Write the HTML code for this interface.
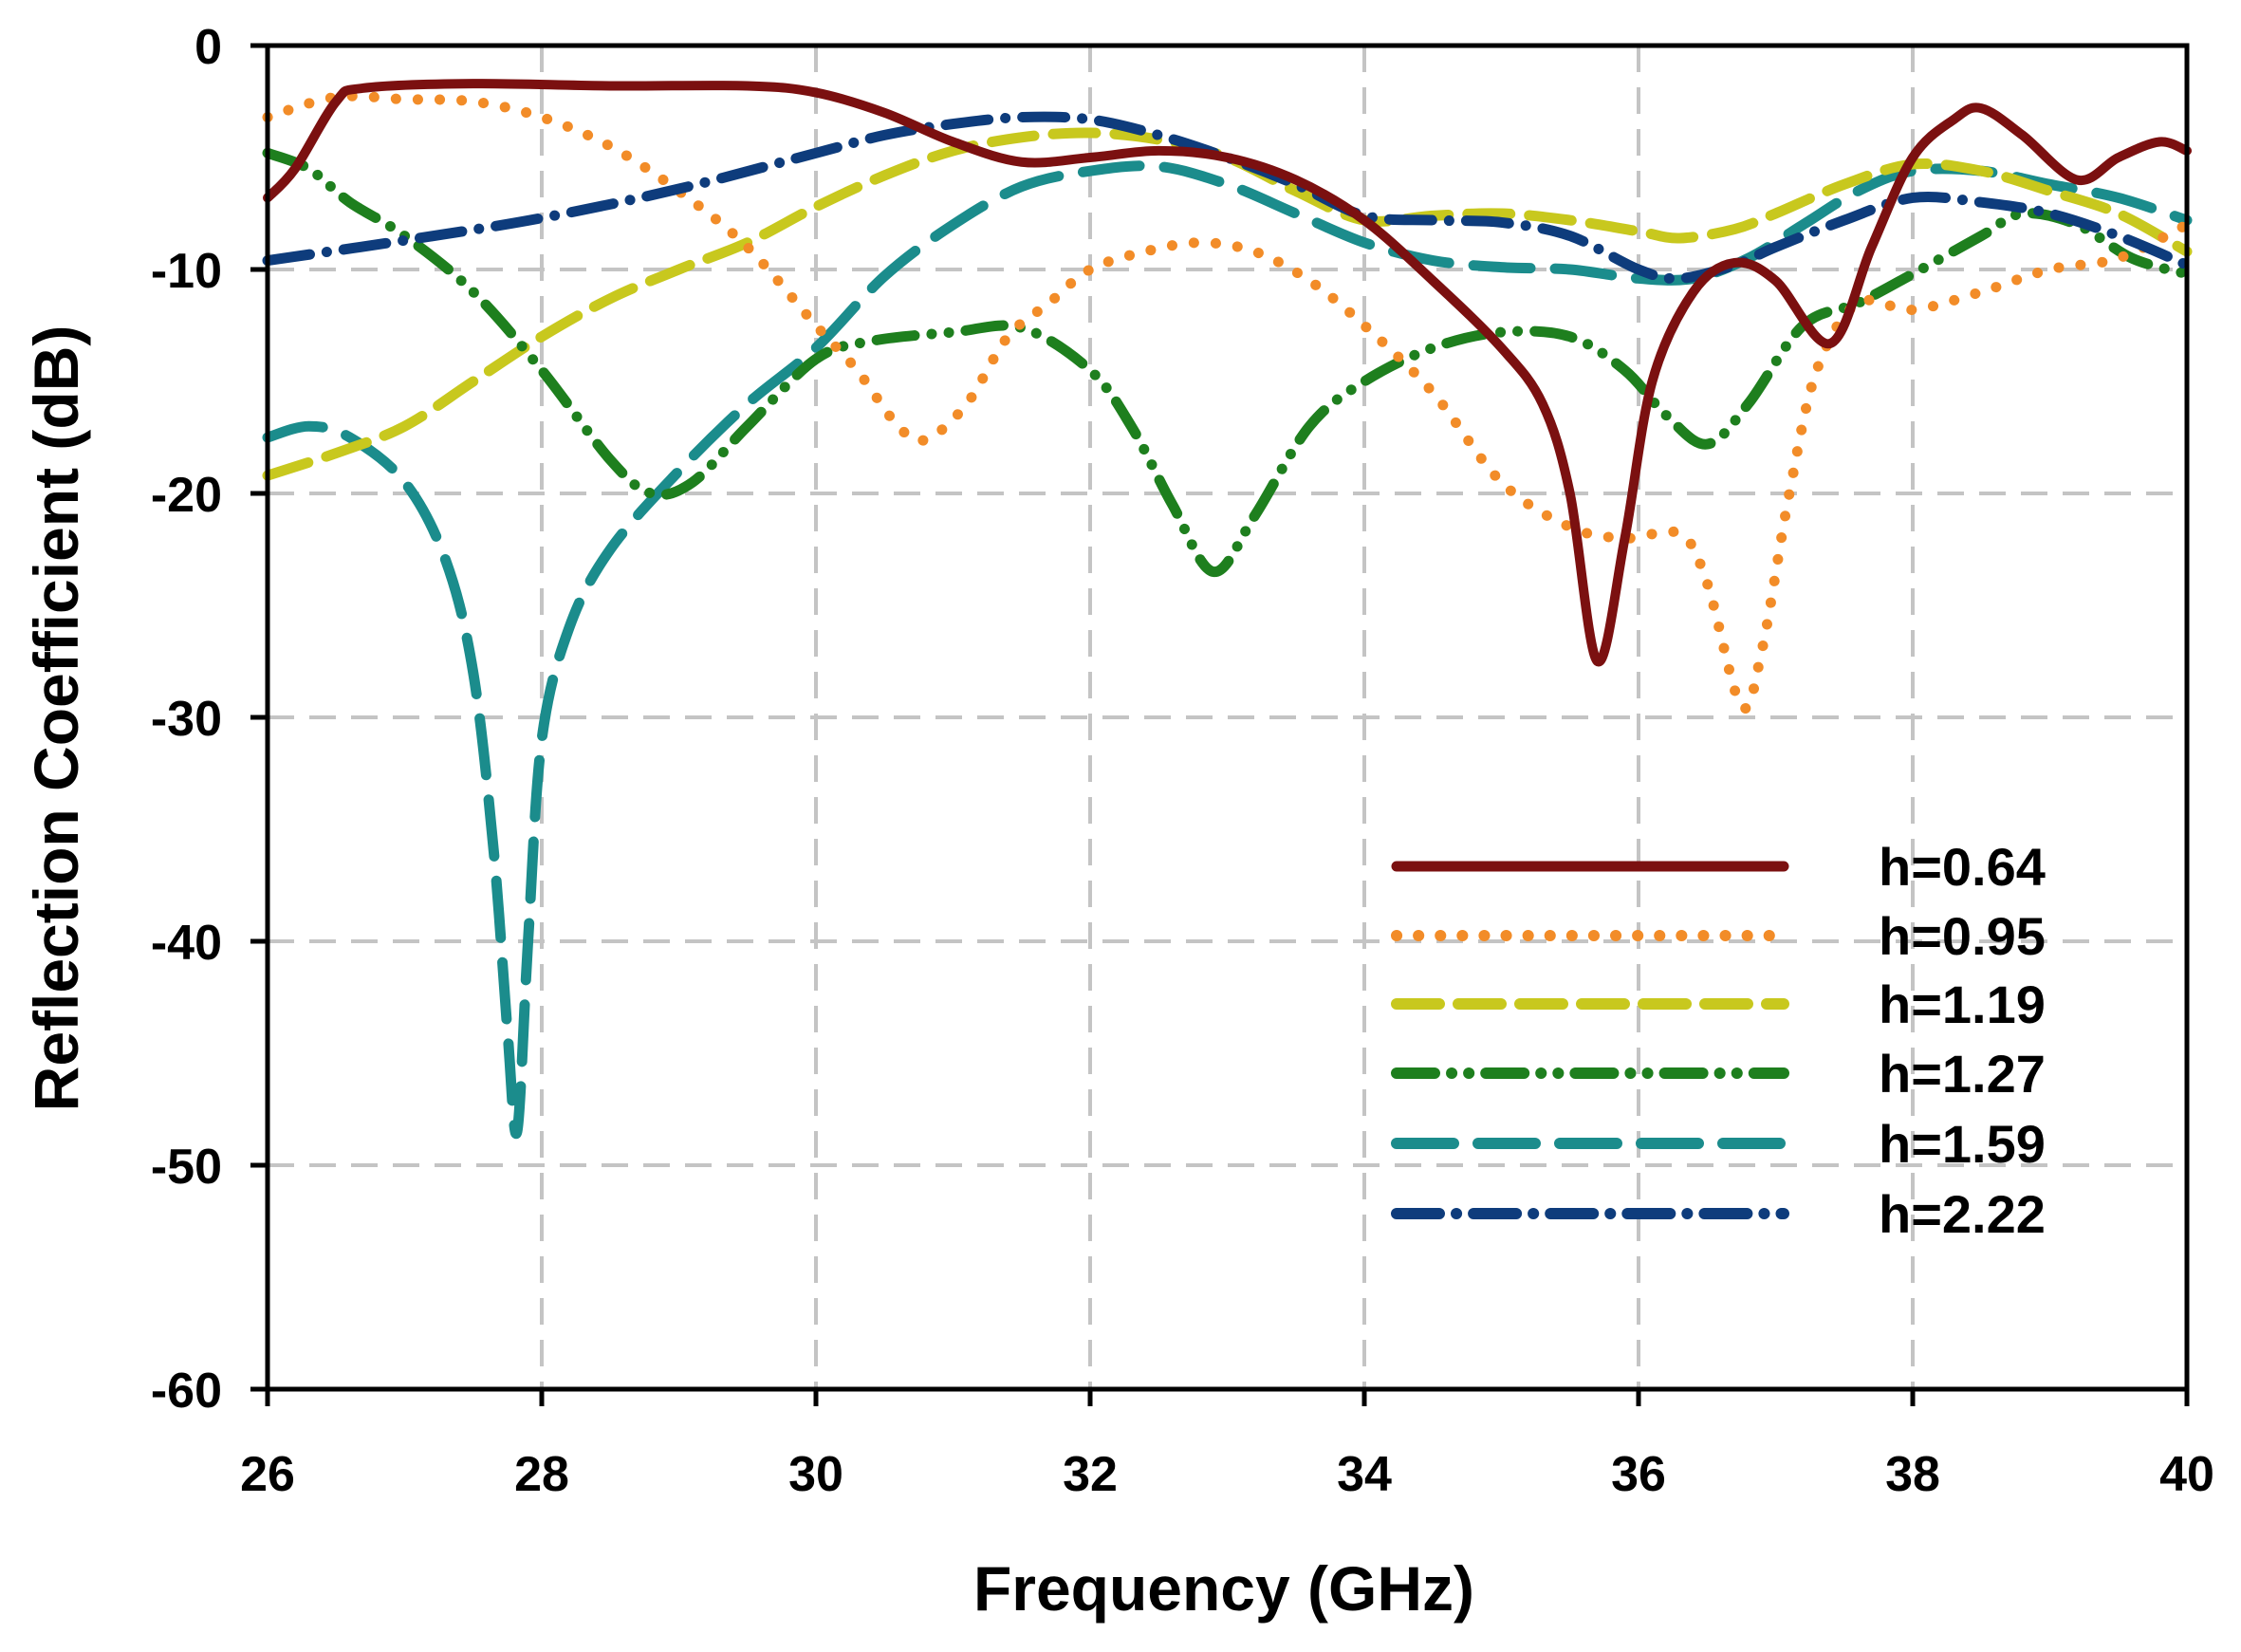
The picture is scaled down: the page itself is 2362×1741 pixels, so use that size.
<!DOCTYPE html>
<html><head><meta charset="utf-8"><style>
html,body{margin:0;padding:0;background:#fff;}
svg{display:block;font-family:"Liberation Sans",Arial,sans-serif;font-weight:bold;}
</style></head><body>
<svg id="s" width="2362" height="1741" viewBox="0 0 2362 1741" xmlns="http://www.w3.org/2000/svg">
<rect width="2362" height="1741" fill="#fff"/>
<g id="grid" stroke="#c4c4c4" stroke-width="4" stroke-dasharray="28,16"></g>
<g id="curves" fill="none" stroke-linecap="round" stroke-linejoin="round"></g>
<g id="axes" stroke="#000" stroke-width="5" fill="none"></g>
<g id="labels" fill="#000"></g>
<text x="1290" y="1697" font-size="66" text-anchor="middle">Frequency (GHz)</text>
<text transform="translate(82,757) rotate(-90)" font-size="66" text-anchor="middle">Reflection Coefficient (dB)</text>
<g id="legend" fill="none" stroke-linecap="round"></g>
</svg>
<script>
var L=282,R=2305,T=48,B=1464;
function X(f){return L+(f-26)*(R-L)/14;}
function Y(d){return T+(-d)*(B-T)/60;}
var NS="http://www.w3.org/2000/svg";
function el(p,n,a,t){var e=document.createElementNS(NS,n);for(var k in a)e.setAttribute(k,a[k]);if(t!==undefined)e.textContent=t;document.getElementById(p).appendChild(e);return e;}
for(var f=28;f<40;f+=2)el("grid","line",{x1:X(f),y1:T,x2:X(f),y2:B});
for(var d=-10;d>-60;d-=10)el("grid","line",{x1:L,y1:Y(d),x2:R,y2:Y(d)});
el("axes","rect",{x:L,y:T,width:R-L,height:B-T});
for(var f=26;f<=40;f+=2){el("axes","line",{x1:X(f),y1:B,x2:X(f),y2:B+18});el("labels","text",{x:X(f),y:1571,"font-size":52,"text-anchor":"middle"},f);}
for(var d=0;d>=-60;d-=10){el("axes","line",{x1:L-18,y1:Y(d),x2:L,y2:Y(d)});el("labels","text",{x:234,y:Y(d)+19,"font-size":52,"text-anchor":"end"},d);}
function path(pts){var P=[];for(var i=0;i<pts.length;i+=2)P.push([X(pts[i]),Y(pts[i+1])]);
var s="M"+P[0][0]+","+P[0][1];for(var i=0;i<P.length-1;i++){var p0=P[Math.max(i-1,0)],p1=P[i],p2=P[i+1],p3=P[Math.min(i+2,P.length-1)];
s+=" C"+(p1[0]+(p2[0]-p0[0])/6)+","+(p1[1]+(p2[1]-p0[1])/6)+" "+(p2[0]-(p3[0]-p1[0])/6)+","+(p2[1]-(p3[1]-p1[1])/6)+" "+p2[0]+","+p2[1];}return s;}
var S=[
{c:"#1b8c8c",w:11,da:"60,26",d:[26,-17.5,26.3,-17,26.6,-17.5,27,-19.5,27.3,-23,27.5,-28,27.65,-36,27.75,-44,27.82,-48.5,27.9,-40,28,-31,28.2,-26,28.5,-22.5,29,-19,29.5,-16,30,-13.5,30.5,-10.3,31,-8,31.5,-6.3,32,-5.6,32.5,-5.4,33,-6.2,33.5,-7.5,34,-8.8,34.5,-9.6,35,-9.9,35.5,-10,36,-10.4,36.4,-10.4,36.8,-9.5,37.2,-8,37.6,-6.5,38,-5.6,38.5,-5.6,39,-6.2,39.5,-6.8,40,-7.8]},
{c:"#c8c81e",w:11,da:"45,20",d:[26,-19.2,26.5,-18.2,27,-17,27.5,-15,28,-13,28.5,-11.3,29,-10,29.5,-8.8,30,-7.2,30.5,-5.8,31,-4.7,31.5,-4.1,32,-3.9,32.5,-4.2,33,-5,33.5,-6.5,34,-7.8,34.5,-7.6,35,-7.5,35.5,-7.8,36,-8.3,36.3,-8.6,36.7,-8.2,37,-7.5,37.5,-6.2,38,-5.3,38.5,-5.6,39,-6.5,39.5,-7.5,40,-9.2]},
{c:"#1e7f1e",w:11,da:"40,18,0.1,18,0.1,18",d:[26,-4.8,26.3,-5.5,26.6,-7,27,-8.5,27.5,-11,28,-14.5,28.5,-18.5,28.8,-20,29.1,-19.5,29.5,-17,30,-14,30.4,-13.2,31,-12.8,31.5,-12.6,32,-14.5,32.3,-17,32.6,-20.5,32.9,-23.5,33.2,-21,33.6,-17,34,-15,34.5,-13.5,35,-12.8,35.5,-13,35.9,-14.5,36.2,-16.5,36.5,-17.8,36.8,-16,37.2,-12.5,37.6,-11.5,38,-10.2,38.5,-8.5,38.8,-7.5,39.2,-8,39.6,-9.5,40,-10.2]},
{c:"#f28c28",w:11,da:"0.1,23",d:[26,-3.2,26.5,-2.3,27,-2.4,27.5,-2.5,28,-3.2,28.5,-4.5,29,-6.5,29.5,-9,30,-12.5,30.3,-14.5,30.6,-17,30.8,-17.6,31.1,-16,31.4,-13,31.7,-11.5,32,-10,32.4,-9.2,32.8,-8.8,33.2,-9.2,33.6,-10.5,34,-12.5,34.5,-15.5,35,-19.5,35.5,-21.5,35.9,-22,36.3,-21.8,36.5,-24,36.75,-29.5,36.9,-27,37.1,-20,37.3,-14.5,37.6,-11.5,38,-11.8,38.5,-11,39,-10,39.5,-9.5,40,-8]},
{c:"#0e3c7c",w:11,da:"45,18,0.1,18",d:[26,-9.6,27,-8.7,28,-7.7,29,-6.4,30,-4.8,30.5,-4,31,-3.5,31.5,-3.2,32,-3.3,32.5,-4,33,-5,33.5,-6.2,34,-7.6,34.5,-7.8,35,-7.9,35.5,-8.5,36,-10,36.3,-10.4,36.7,-9.8,37,-9,37.5,-7.8,38,-6.8,38.5,-7,39,-7.5,39.5,-8.5,40,-9.8]},
{c:"#7b1010",w:10,da:"none",d:[26,-6.8,26.2,-5.5,26.5,-2.5,26.7,-1.9,27.5,-1.7,28.5,-1.8,29.5,-1.8,30,-2.1,30.5,-3,31,-4.3,31.5,-5.2,32,-5,32.5,-4.7,33,-5,33.5,-6,34,-7.8,34.5,-10.5,35,-13.5,35.3,-16,35.5,-20,35.7,-27.5,35.9,-22,36.1,-15,36.4,-11,36.7,-9.7,37,-10.5,37.4,-13.3,37.7,-9,38,-5,38.3,-3.3,38.5,-2.8,38.8,-4,39.2,-6,39.5,-5,39.8,-4.3,40,-4.7]}
];
S.forEach(function(s){el("curves","path",{d:path(s.d),stroke:s.c,"stroke-width":s.w,"stroke-dasharray":s.da});});
var Lg=[["h=0.64",5],["h=0.95",3],["h=1.19",1],["h=1.27",2],["h=1.59",0],["h=2.22",4]];
var ly=[913,986,1058,1131,1205,1279];
Lg.forEach(function(g,i){var s=S[g[1]];el("legend","line",{x1:1472,y1:ly[i],x2:1880,y2:ly[i],stroke:s.c,"stroke-width":s.w+1,"stroke-dasharray":s.da});
el("labels","text",{x:1980,y:ly[i]+20,"font-size":56},g[0]);});
</script>
</body></html>
